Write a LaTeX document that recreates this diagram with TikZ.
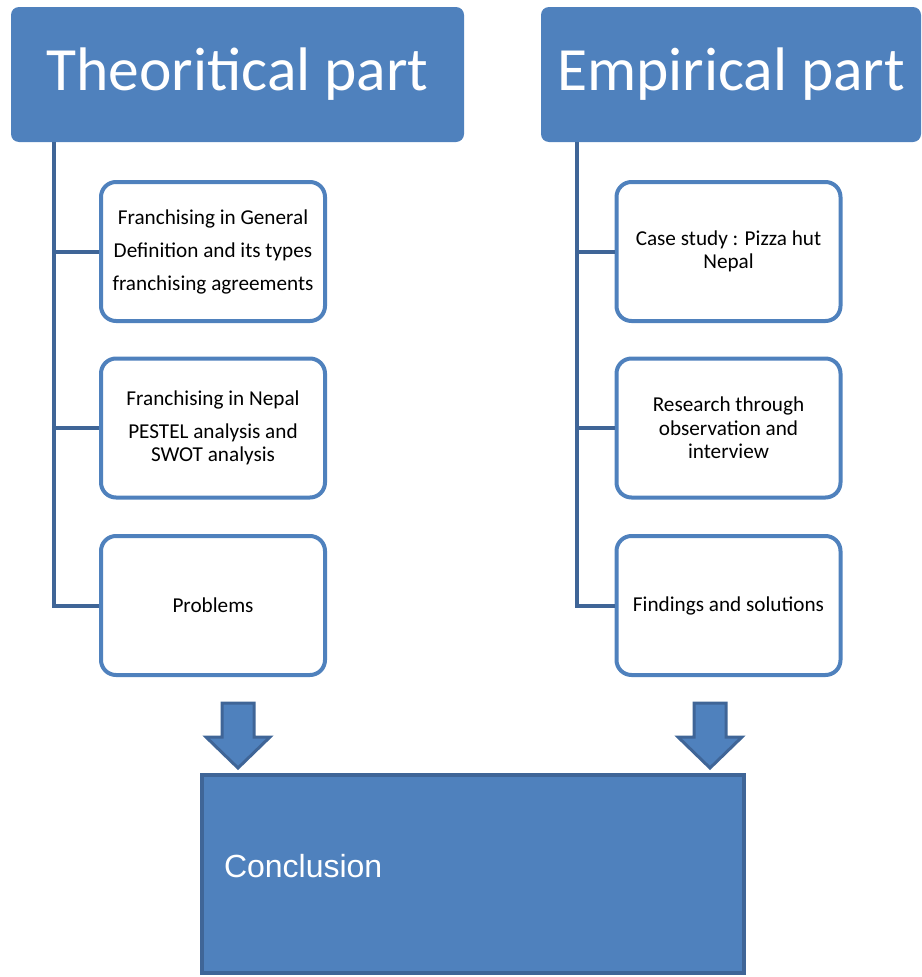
\documentclass[tikz,border=0pt]{standalone}
\usepackage{fontspec}
\setmainfont{Carlito}
\newfontfamily\arialfont{Liberation Sans}
\definecolor{accent}{HTML}{4F81BD}
\definecolor{accentdark}{HTML}{3F6597}
\tikzset{
  header/.style={rectangle, rounded corners=8pt, fill=accent, text=white,
    minimum height=135pt, inner sep=0pt, font=\fontsize{61.5}{73}\selectfont},
  item/.style={rectangle, draw=accent, line width=4pt, rounded corners=15pt,
    fill=white, minimum width=224pt, minimum height=139pt, align=center,
    font=\fontsize{21.2}{23.5}\selectfont},
  trunk/.style={draw=accentdark, line width=4pt},
  blockarrow/.style={fill=accent, draw=accentdark, line width=3pt, line join=miter},
  conclusion/.style={rectangle, fill=accent, draw=accentdark, line width=4pt,
    minimum width=542pt, minimum height=198pt, text width=498pt, inner xsep=22pt,
    text depth=16pt, align=left, text=white, font=\arialfont\fontsize{32}{38}\selectfont}
}
\begin{document}
\begin{tikzpicture}[x=1pt,y=-1pt]
    \useasboundingbox (0,0) rectangle (921,977);

    % headers
    \node (theo) at (237.5,74.5) [header,minimum width=453pt] {Theoritical part};
    \node (emp)  at (731,74.5)   [header,minimum width=380pt] {Empirical part};

    % theoretical side
    \node (t1) at (213,251.5) [item] {Franchising in General\\[9.5pt]Definition and its types\\[9.5pt]franchising agreements};
    \node (t2) at (213,428)   [item] {Franchising in Nepal\\[9.5pt]PESTEL analysis and\\SWOT analysis};
    \node (t3) at (213,605.5) [item] {Problems};

    % empirical side
    \node (e1) at (728.5,251.5) [item] {Case study : Pizza hut\\Nepal};
    \node (e2) at (728.5,428)   [item] {Research through\\observation and\\interview};
    \node (e3) at (728.5,605.5) [item] {Findings and solutions};

    \coordinate (theoTrunk) at (54,142);
    \coordinate (empTrunk) at (577,142);

    \draw[trunk] (theoTrunk) |- (t3.west);
    \draw[trunk] (empTrunk) |- (e3.west);
    \foreach \n in {t1,t2}
        \draw[trunk] (\n.west -| theoTrunk) -- (\n.west);
    \foreach \n in {e1,e2}
        \draw[trunk] (\n.west -| empTrunk) -- (\n.west);

    % conclusion
    \node (concl) at (473,874) [conclusion] {Conclusion};

    \coordinate (arrL) at (238,703);
    \coordinate (arrR) at (710,703);
    \foreach \a in {arrL,arrR}
        \draw[blockarrow] (\a) ++(-16,0) -- ++(0,34) -- ++(-16,0) -- ++(32,31)
            -- ++(32,-31) -- ++(-16,0) -- ++(0,-34) -- cycle;
\end{tikzpicture}
\end{document}
